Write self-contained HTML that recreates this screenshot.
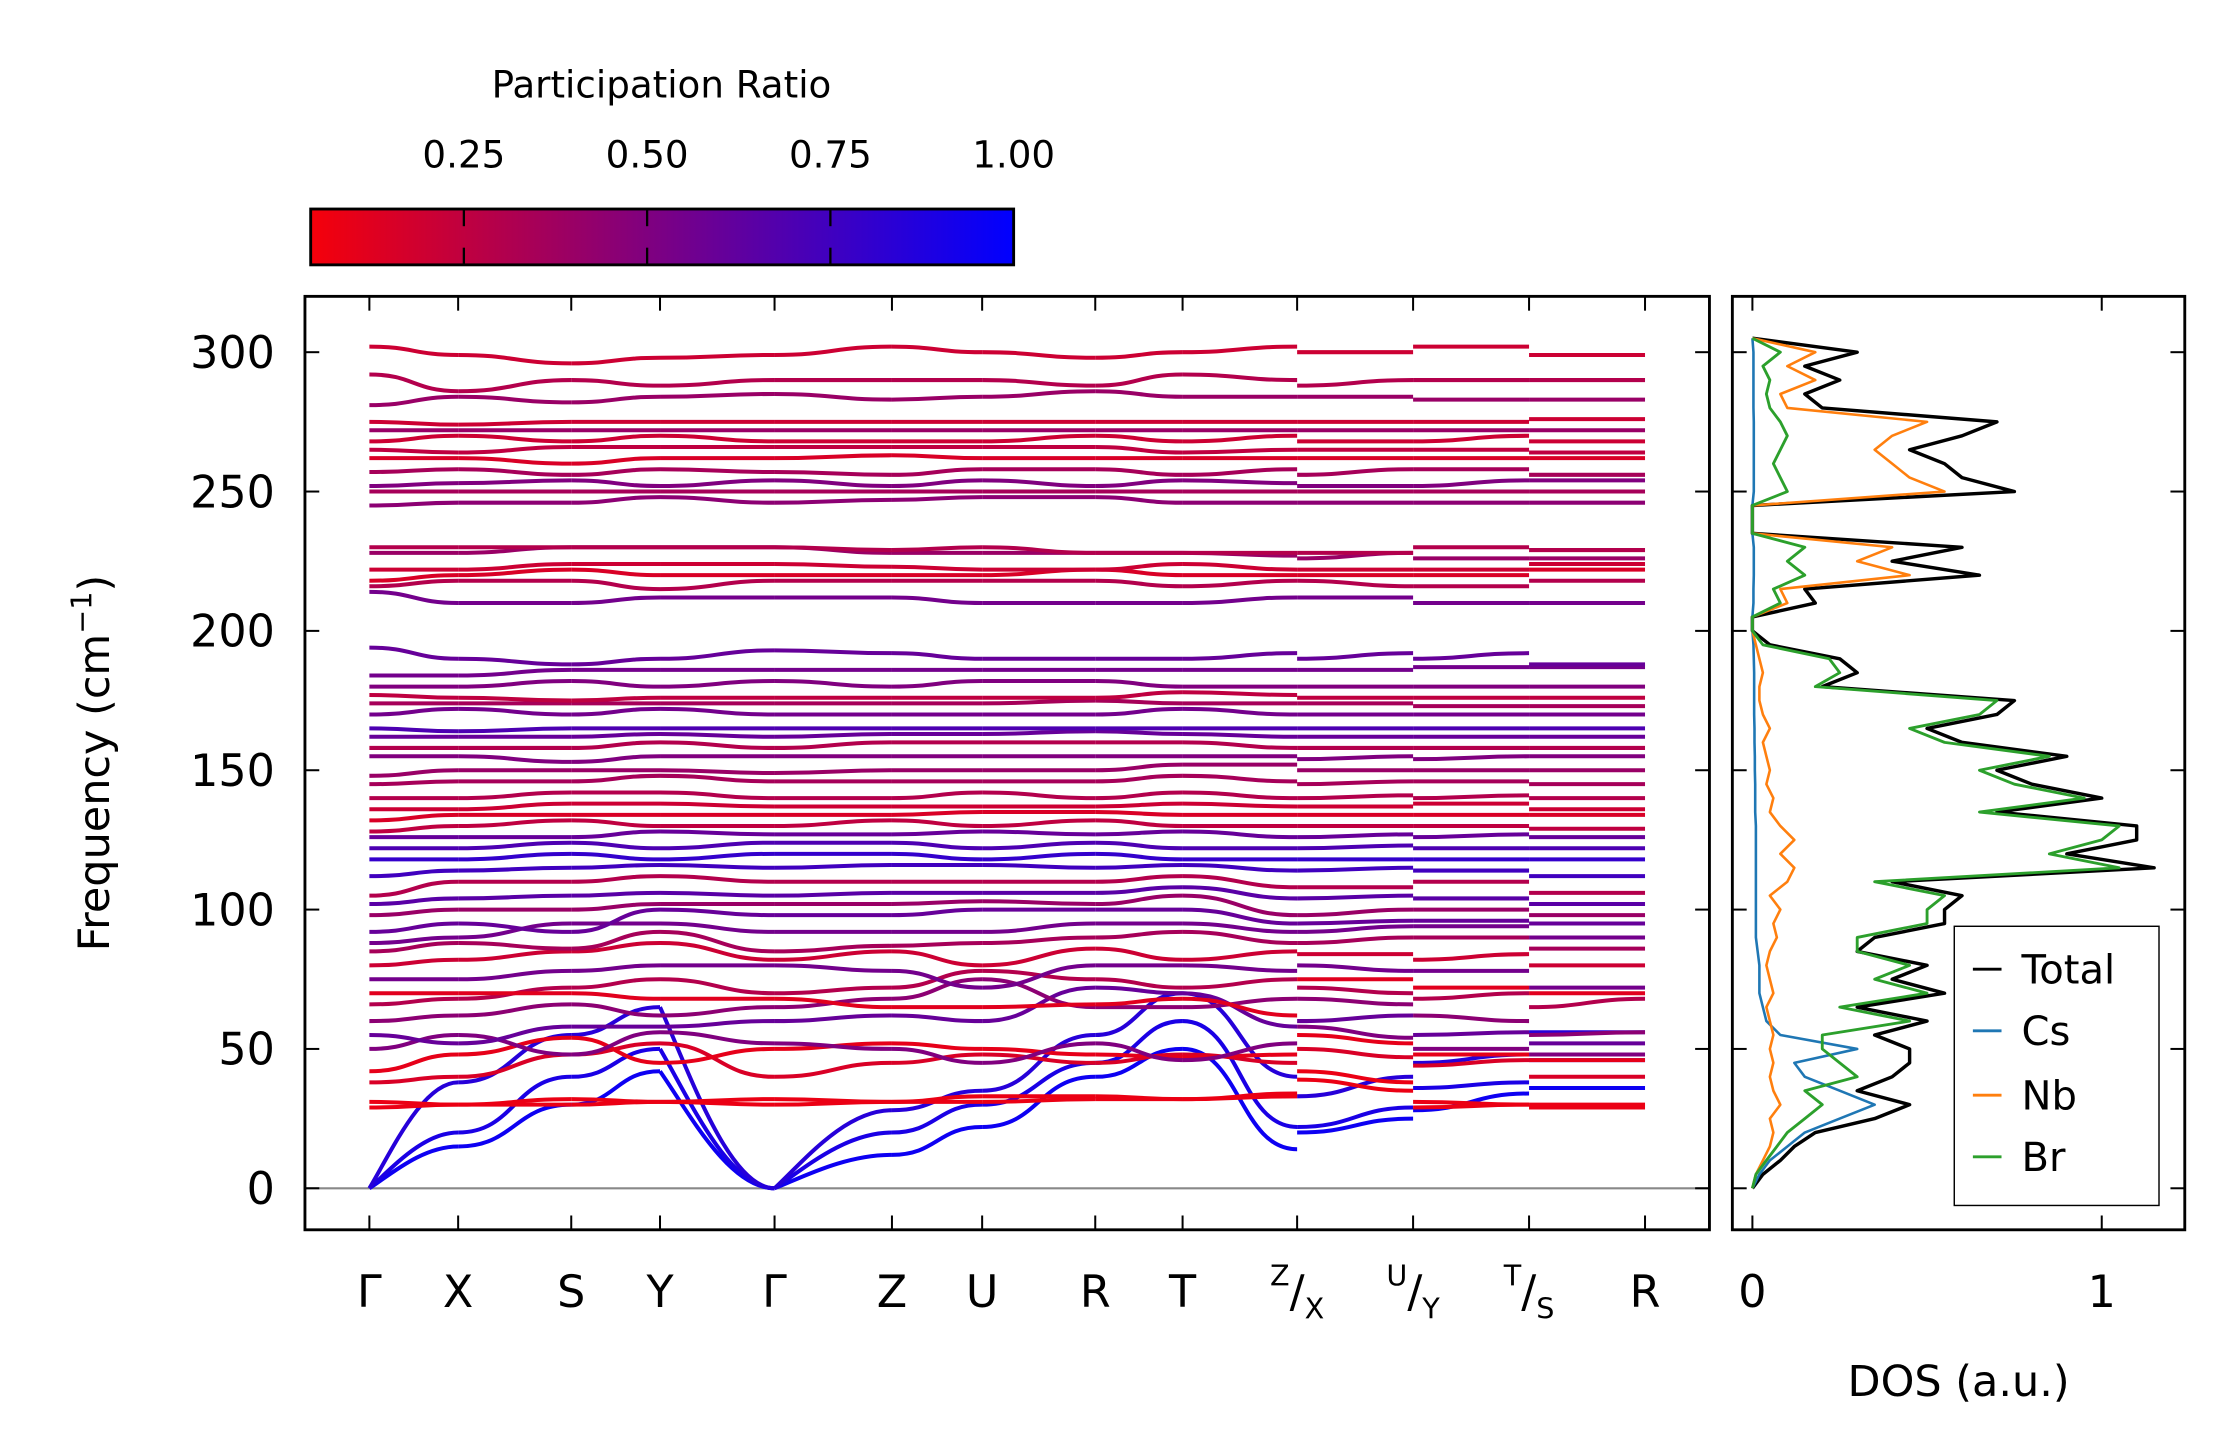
<!DOCTYPE html>
<html><head><meta charset="utf-8"><style>
html,body{margin:0;padding:0;background:#fff}
svg{display:block}
text{font-family:"DejaVu Sans","Liberation Sans",sans-serif;fill:#000}
</style></head><body>
<svg id="chart" width="2222" height="1455" viewBox="0 0 1552 1016.3" preserveAspectRatio="none" xmlns="http://www.w3.org/2000/svg">
<defs>
<linearGradient id="cmap" x1="0" x2="1" y1="0" y2="0">
<stop offset="0" stop-color="#f5000a"/><stop offset="1" stop-color="#0000ff"/>
</linearGradient>
<clipPath id="bandclip"><rect x="213" y="207" width="981" height="652"/></clipPath>
</defs>
<g>
<text x="462" y="68" font-size="26" text-anchor="middle">Participation Ratio</text>
<rect x="217" y="146" width="491" height="39" fill="url(#cmap)" stroke="#000" stroke-width="2"/>
<g id="cbticks"></g>
</g>
<g id="bands"></g>
<g id="dos"></g>
<text transform="translate(76,533) rotate(-90)" font-size="30" text-anchor="middle">Frequency (cm<tspan dy="-12" font-size="20">−1</tspan><tspan dy="12">)</tspan></text>
<text x="1368" y="975" font-size="30" text-anchor="middle">DOS (a.u.)</text>
</svg>
<script>
const kLabels = ["Γ","X","S","Y","Γ","Z","U","R","T","Z|X","U|Y","T|S","R"];
const freqTicks = [0,50,100,150,200,250,300];
const cbTicks = [0.25,0.5,0.75,1.0];
const cbTickLabels = ["0.25","0.50","0.75","1.00"];
const bands = [
[0,15,30,42,0,12,22,40,50,14, 20,25, 28,34, 36,36],
[0,20,40,50,0,20,30,45,60,22, 22,29, 36,38, 46,46],
[0,38,55,65,0,28,35,55,70,40, 33,40, 45,48, 56,56],
[29,30,30,31,30,31,31,32,32,33, 39,35, 29,30, 29,29],
[31,30,32,31,32,31,33,33,32,34, 42,38, 31,30, 30,30],
[38,40,48,52,40,45,48,45,48,45, 50,47, 44,46, 40,40],
[42,48,54,45,50,52,50,48,47,48, 55,52, 48,48, 46,46],
[50,55,48,56,52,50,45,52,46,52, 58,54, 50,50, 48,48],
[55,52,58,58,60,62,60,72,70,58, 60,62, 55,56, 52,52],
[60,62,66,62,65,68,75,65,65,68, 68,66, 62,60, 55,56],
[66,68,72,75,70,72,78,75,72,75, 72,70, 68,70, 65,68],
[70,70,70,68,68,65,65,66,68,62, 75,75, 72,72, 70,70],
[75,75,78,80,80,78,72,80,80,78, 80,78, 78,78, 72,72],
[80,82,85,88,82,85,80,86,82,85, 84,84, 82,84, 80,80],
[85,88,86,92,85,87,88,90,92,88, 88,90, 90,90, 86,86],
[88,90,95,95,92,92,92,95,95,92, 92,94, 94,94, 90,90],
[92,95,92,100,98,98,100,100,100,95, 95,96, 96,96, 95,95],
[98,100,100,102,102,102,103,102,105,98, 98,100, 100,100, 98,98],
[102,104,105,106,105,106,106,106,108,104, 104,105, 104,104, 102,102],
[105,110,110,112,110,110,110,110,112,108, 108,108, 110,110, 106,106],
[112,114,115,116,115,116,116,115,116,114, 114,115, 114,114, 112,112],
[118,118,120,118,120,120,118,120,118,118, 118,118, 118,118, 118,118],
[122,122,124,122,124,124,122,124,122,122, 122,123, 122,122, 122,122],
[126,126,126,128,127,127,128,127,128,126, 126,127, 126,127, 126,126],
[128,130,132,130,130,132,130,132,130,130, 130,130, 130,130, 129,129],
[132,134,134,134,134,134,135,135,134,134, 134,134, 134,134, 134,134],
[136,136,138,138,137,137,137,137,138,137, 137,137, 138,138, 136,136],
[140,140,142,142,140,140,142,140,142,140, 140,141, 140,141, 140,140],
[145,146,146,148,146,146,146,146,148,146, 145,146, 146,146, 145,145],
[148,150,150,150,149,150,150,150,152,152, 150,150, 150,150, 150,150],
[155,155,153,155,155,155,155,155,155,155, 154,155, 154,155, 155,155],
[158,158,158,160,158,160,160,160,160,158, 158,158, 158,158, 158,158],
[162,162,162,163,162,163,163,164,163,162, 162,162, 162,162, 162,162],
[165,164,165,165,165,165,165,165,165,165, 165,165, 165,165, 165,165],
[170,172,170,172,170,170,170,170,172,170, 170,170, 170,170, 170,170],
[174,174,174,174,174,174,174,175,174,174, 174,174, 173,173, 173,173],
[177,176,175,176,176,176,176,176,178,177, 176,176, 176,176, 176,176],
[180,180,182,180,182,180,182,182,180,180, 180,180, 180,180, 180,180],
[184,184,186,186,186,186,186,186,186,186, 186,186, 187,187, 187,187],
[194,190,188,190,193,192,190,190,190,192, 190,192, 190,192, 188,188],
[214,210,210,212,212,212,210,210,210,212, 212,212, 210,210, 210,210],
[216,218,218,215,218,218,218,218,216,218, 218,216, 216,216, 218,218],
[218,220,222,220,220,220,220,222,220,220, 220,220, 220,220, 222,222],
[222,222,224,224,224,223,222,222,224,222, 222,222, 222,222, 224,224],
[228,228,230,230,230,228,228,228,228,227, 226,228, 226,226, 226,226],
[230,230,230,230,230,229,230,228,228,228, 228,228, 230,230, 229,229],
[245,246,246,248,246,247,248,248,246,246, 246,246, 246,246, 246,246],
[250,250,250,250,250,250,250,250,250,250, 250,250, 250,250, 250,250],
[252,253,254,252,254,252,254,252,254,253, 252,252, 252,254, 254,254],
[257,258,256,258,257,256,258,258,256,258, 256,258, 258,258, 256,256],
[262,262,260,262,262,263,262,262,262,262, 262,262, 262,262, 262,262],
[265,264,266,266,266,266,266,266,264,265, 265,265, 265,265, 264,264],
[268,270,268,270,268,268,268,270,268,270, 268,268, 268,270, 268,268],
[272,272,272,272,272,272,272,272,272,272, 272,272, 272,272, 272,272],
[275,274,275,275,275,275,275,275,275,275, 275,275, 275,275, 276,276],
[281,284,282,284,285,283,284,286,284,284, 284,284, 283,283, 283,283],
[292,286,290,288,290,290,290,288,292,290, 288,290, 290,290, 290,290],
[302,299,296,298,299,302,300,298,300,302, 300,300, 302,302, 299,299]
];
const bandPR = [0.95,0.9,0.85,0.08,0.08,0.15,0.1,0.5,0.6,0.45,0.3,0.12,0.55,0.2,0.35,0.55,0.6,0.4,0.65,0.3,0.75,0.8,0.7,0.6,0.25,0.15,0.2,0.3,0.35,0.4,0.5,0.3,0.6,0.7,0.55,0.35,0.25,0.5,0.55,0.6,0.55,0.3,0.15,0.2,0.4,0.3,0.45,0.35,0.5,0.35,0.15,0.25,0.2,0.4,0.2,0.4,0.3,0.2];
const dosFreq = [0,5,10,15,20,25,30,35,40,45,50,55,60,65,70,75,80,85,90,95,100,105,110,115,120,125,130,135,140,145,150,155,160,165,170,175,180,185,190,195,200,205,210,215,220,225,230,235,240,245,250,255,260,265,270,275,280,285,290,295,300,305];
const dosTotal = [0,0.03,0.08,0.12,0.18,0.35,0.45,0.3,0.4,0.45,0.45,0.35,0.5,0.3,0.55,0.4,0.5,0.3,0.35,0.55,0.55,0.6,0.4,1.15,0.9,1.1,1.1,0.7,1.0,0.8,0.7,0.9,0.6,0.5,0.7,0.75,0.2,0.3,0.25,0.05,0,0,0.18,0.15,0.65,0.4,0.6,0,0,0,0.75,0.6,0.55,0.45,0.6,0.7,0.2,0.15,0.25,0.15,0.3,0];
const dosCs = [0,0.02,0.05,0.1,0.15,0.25,0.35,0.25,0.15,0.12,0.3,0.08,0.04,0.03,0.02,0.02,0.02,0.015,0.01,0.01,0.01,0.01,0.01,0.01,0.01,0.01,0.01,0.008,0.008,0.008,0.007,0.007,0.006,0.006,0.005,0.005,0.005,0.005,0.004,0.003,0,0,0.003,0.003,0.004,0.004,0.004,0,0,0,0.004,0.004,0.004,0.004,0.004,0.004,0.003,0.003,0.003,0.003,0.003,0];
const dosNb = [0,0.01,0.03,0.05,0.06,0.05,0.08,0.06,0.05,0.06,0.05,0.06,0.05,0.04,0.06,0.05,0.04,0.05,0.07,0.06,0.08,0.05,0.1,0.12,0.08,0.12,0.08,0.05,0.06,0.04,0.05,0.04,0.03,0.05,0.03,0.02,0.02,0.03,0.02,0.01,0,0,0.1,0.08,0.45,0.3,0.4,0,0,0,0.55,0.45,0.4,0.35,0.4,0.5,0.1,0.08,0.18,0.1,0.18,0];
const dosBr = [0,0.01,0.04,0.07,0.1,0.15,0.2,0.15,0.3,0.25,0.2,0.2,0.45,0.25,0.5,0.35,0.45,0.3,0.3,0.5,0.5,0.55,0.35,1.05,0.85,1.0,1.05,0.65,0.95,0.75,0.65,0.85,0.55,0.45,0.65,0.7,0.18,0.25,0.22,0.03,0,0,0.08,0.06,0.15,0.1,0.15,0,0,0,0.1,0.08,0.06,0.08,0.1,0.08,0.05,0.04,0.05,0.03,0.08,0];
const dosTicks = [0,1];

const NS = "http://www.w3.org/2000/svg";
const kx = [258,320,399,461,541,623,686,765,826,906,987,1068,1149];
const B = {l:213,r:1194,t:207,b:859};
const D = {l:1210,r:1526};
function yScale(f){ return 830 - f*(830-246)/300; }
function dScale(v){ return 1224 + v*(1468-1224); }
function cbScale(p){ return 196 + p*(708-196); }
function prColor(p){ const t=Math.max(0,Math.min(1,(p-0.04)/0.96)); const r=Math.round(245*(1-t)), b=Math.round(10+245*t); return `rgb(${r},0,${b})`; }
function mk(tag, attrs, parent){ const e=document.createElementNS(NS,tag); for(const k in attrs) e.setAttribute(k,attrs[k]); parent.appendChild(e); return e; }

const cbg = document.getElementById('cbticks');
cbTicks.forEach((p,i)=>{
  const x=cbScale(p);
  if(p<1){
    const t1=mk('line',{x1:x,x2:x,y1:146,y2:158,stroke:'#000','stroke-width':1.6},cbg);
    
    
    const t2=mk('line',{x1:x,x2:x,y1:173,y2:185,stroke:'#000','stroke-width':1.6},cbg);
    
    
  }
  const tx=mk('text',{x:x,y:117,'font-size':26,'text-anchor':'middle'},cbg);
  tx.textContent=cbTickLabels[i];
  
  
});

const bg = document.getElementById('bands');
const zl=mk('line',{x1:B.l,x2:B.r,y1:yScale(0),y2:yScale(0),stroke:'#888','stroke-width':1.5},bg);


const bandsG = mk('g',{'clip-path':'url(#bandclip)'},bg);
const segs=[];
for(let i=0;i<9;i++) segs.push([i,i+1,i,i+1]);
segs.push([10,11,9,10]);segs.push([12,13,10,11]);segs.push([14,15,11,12]);
bands.forEach((bd,bi)=>{
  segs.forEach(s=>{
    const x0=kx[s[2]],x1=kx[s[3]],y0=yScale(bd[s[0]]),y1=yScale(bd[s[1]]);
    const dx=x1-x0;
    const acoustic = (bd[s[0]]===0||bd[s[1]]===0);
    const d = acoustic ? `M${x0},${y0} C${x0+dx*0.25},${y0+(y1-y0)*0.35} ${x1-dx*0.4},${y1} ${x1},${y1}` : `M${x0},${y0} C${x0+dx/2},${y0} ${x1-dx/2},${y1} ${x1},${y1}`;
    const p=mk('path',{d:d,fill:'none',stroke:prColor(bandPR[bi]),'stroke-width':2.8},bandsG);
    
    
  });
});
const bframe=mk('rect',{x:B.l,y:B.t,width:B.r-B.l,height:B.b-B.t,fill:'none',stroke:'#000','stroke-width':2},bg);


kx.forEach((x,i)=>{
  mk('line',{x1:x,x2:x,y1:B.t,y2:B.t+10,stroke:'#000','stroke-width':1.4},bg);
  mk('line',{x1:x,x2:x,y1:B.b,y2:B.b-10,stroke:'#000','stroke-width':1.4},bg);
  const lab=kLabels[i];
  const t=mk('text',{x:x,y:913,'font-size':31,'text-anchor':'middle'},bg);
  if(lab.includes('|')){
    const [a,b]=lab.split('|');
    t.innerHTML=`<tspan font-size="20" dy="-15">${a}</tspan><tspan dy="15">/</tspan><tspan font-size="20" dy="8">${b}</tspan>`;
  } else {
    t.textContent=lab;
  }
  
  
});
freqTicks.forEach(f=>{
  const y=yScale(f);
  mk('line',{x1:B.l,x2:B.l+10,y1:y,y2:y,stroke:'#000','stroke-width':1.4},bg);
  mk('line',{x1:B.r,x2:B.r-10,y1:y,y2:y,stroke:'#000','stroke-width':1.4},bg);
  const t=mk('text',{x:192,y:y+11,'font-size':31,'text-anchor':'end'},bg);
  t.textContent=f;
  
  
});

const dg=document.getElementById('dos');
function dosLine(vals,color,name,w){
  const pts=dosFreq.map((f,i)=>`${dScale(vals[i])},${yScale(f)}`).join(' ');
  const pl=mk('polyline',{points:pts,fill:'none',stroke:color,'stroke-width':w,'stroke-linejoin':'round'},dg);
  
  
}
dosLine(dosTotal,'#000','dos-total-line',2.4);
dosLine(dosCs,'#1f77b4','dos-cs-line',1.8);
dosLine(dosNb,'#ff7f0e','dos-nb-line',1.8);
dosLine(dosBr,'#2ca02c','dos-br-line',2.0);
const dframe=mk('rect',{x:D.l,y:B.t,width:D.r-D.l,height:B.b-B.t,fill:'none',stroke:'#000','stroke-width':2},dg);


freqTicks.forEach(f=>{
  const y=yScale(f);
  mk('line',{x1:D.l,x2:D.l+10,y1:y,y2:y,stroke:'#000','stroke-width':1.4},dg);
  mk('line',{x1:D.r,x2:D.r-10,y1:y,y2:y,stroke:'#000','stroke-width':1.4},dg);
});
dosTicks.forEach(v=>{
  const x=dScale(v);
  mk('line',{x1:x,x2:x,y1:B.t,y2:B.t+10,stroke:'#000','stroke-width':1.4},dg);
  mk('line',{x1:x,x2:x,y1:B.b,y2:B.b-10,stroke:'#000','stroke-width':1.4},dg);
  const t=mk('text',{x:x,y:913,'font-size':31,'text-anchor':'middle'},dg);
  t.textContent=v;
  
  
});
const lg=mk('g',{},dg);


mk('rect',{x:1365,y:647,width:143,height:195,fill:'#fff',stroke:'#000','stroke-width':1},lg);
const legItems=[['Total','#000',677],['Cs','#1f77b4',720],['Nb','#ff7f0e',765],['Br','#2ca02c',808]];
legItems.forEach(it=>{
  mk('line',{x1:1378,x2:1398,y1:it[2],y2:it[2],stroke:it[1],'stroke-width':2},lg);
  const t=mk('text',{x:1412,y:it[2]+10,'font-size':28},lg);
  t.textContent=it[0];
  
  
});
</script>
</body></html>
